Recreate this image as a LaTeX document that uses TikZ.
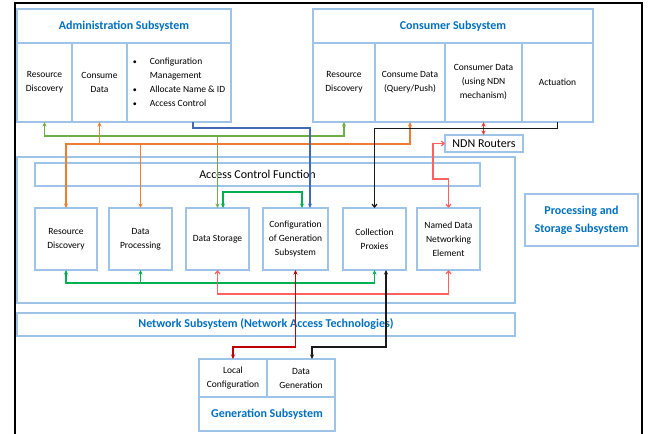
\documentclass[tikz,border=0pt]{standalone}
\usepackage{fontspec}
\setmainfont{Carlito}
\usetikzlibrary{arrows.meta}
\definecolor{boxline}{HTML}{9DC3E6}
\definecolor{titleblue}{HTML}{0070C0}
\definecolor{lgreen}{HTML}{70AD47}
\definecolor{bgreen}{HTML}{00B050}
\definecolor{orng}{HTML}{ED7D31}
\definecolor{dblue}{HTML}{4169B4}
\definecolor{lred}{HTML}{FF6161}
\definecolor{mred}{HTML}{E63B3B}
\definecolor{dred}{HTML}{C00000}
\definecolor{blk}{HTML}{1A1A1A}
\begin{document}
\begin{tikzpicture}[x=1pt,y=-1pt,
  cell/.style={draw=boxline, line width=1.3pt, inner sep=0pt, outer sep=0pt,
    align=center, font=\fontsize{9.5}{14}\selectfont},
  title/.style={cell, font=\fontsize{12}{18}\selectfont\bfseries, text=titleblue},
  plain/.style={cell, font=\fontsize{12}{14}\selectfont},
  stl/.tip={Stealth[length=4.5pt,width=4pt]},
  brb/.tip={Straight Barb[length=3pt,width=5pt]},
  conn/.style={line width=1.5pt},
]
\fill[white] (0,0) rectangle (649,434);
\useasboundingbox (0,0) rectangle (649,434);
% outer frame
\draw[line width=2.6pt, black] (15,434) -- (15,3) -- (642,3) -- (642,434);

% Administration subsystem
\node[title, minimum width=214, minimum height=34] (adTitle) at (124,26) {Administration Subsystem};
\node[cell, minimum width=55, minimum height=79] (adRD) at (44.5,82.5) {Resource\\Discovery};
\node[cell, minimum width=55, minimum height=79] (adCD) at (99.5,82.5) {Consume\\Data};
\node[cell, minimum width=104, minimum height=79] (adCfg) at (179,82.5)
  {\begin{tabular}{@{}l@{\hspace{13pt}}l@{}}
   {\footnotesize\textbullet} & Configuration\\
               & Management\\
   {\footnotesize\textbullet} & Allocate Name \& ID\\
   {\footnotesize\textbullet} & Access Control
   \end{tabular}};

% Consumer subsystem
\node[title, minimum width=280, minimum height=34] (conTitle) at (453,26) {Consumer Subsystem};
\node[cell, minimum width=62, minimum height=79] (conRD) at (344,82.5) {Resource\\Discovery};
\node[cell, minimum width=70, minimum height=79] (conCD) at (410,82.5) {Consume Data\\(Query/Push)};
\node[cell, minimum width=77, minimum height=79] (conND) at (483.5,82.5) {Consumer Data\\(using NDN\\mechanism)};
\node[cell, minimum width=71, minimum height=79] (conAct) at (557.5,82.5) {Actuation};

% NDN routers
\node[plain, minimum width=78, minimum height=17] (ndn) at (484,143.5) {NDN Routers};

% Processing and storage subsystem
\node[cell, minimum width=498, minimum height=146] (pss) at (266,230) {};
\node[plain, minimum width=445, minimum height=23] (acf) at (257.5,174.5) {Access Control Function};
\node[cell, minimum width=62, minimum height=62] (pRD) at (66,239) {Resource\\Discovery};
\node[cell, minimum width=63, minimum height=62] (pDP) at (140.5,239) {Data\\Processing};
\node[cell, minimum width=63, minimum height=62] (pDS) at (217.5,239) {Data Storage};
\node[cell, minimum width=65, minimum height=62] (pCG) at (295.5,239) {Configuration\\of Generation\\Subsystem};
\node[cell, minimum width=63, minimum height=62] (pCP) at (374.5,239) {Collection\\Proxies};
\node[cell, minimum width=63, minimum height=62] (pND) at (448.5,239) {Named Data\\Networking\\Element};
\node[title, minimum width=113, minimum height=52] (pssLabel) at (581.5,220) {Processing and\\Storage Subsystem};

% Network subsystem
\node[title, minimum width=498, minimum height=23] (net) at (266,324.5) {Network Subsystem (Network Access Technologies)};

% Generation subsystem
\node[cell, minimum width=68, minimum height=38] (gLC) at (233,378) {Local\\Configuration};
\node[cell, minimum width=68, minimum height=38] (gDG) at (301,378) {Data\\Generation};
\node[title, minimum width=136, minimum height=34] (gTitle) at (267,414) {Generation Subsystem};

% ---- connectors ----
\coordinate (gj) at (pDS.north |- 0,136);
\coordinate (oy) at (0,144);

% resource discovery links
\draw[conn, lgreen, -{stl}] (gj) -| (adRD.south);
\draw[conn, lgreen, -{stl}] (gj) -| (conRD.south);
\draw[conn, lgreen, -{stl}] (gj) -- (pDS.north);

% consume data / processing links
\draw[conn, orng, line width=1.8pt, {stl}-{stl}] (pRD.north) -- (pRD.north |- oy) -| (conCD.south);
\draw[conn, orng, line width=1.8pt, -{stl}] (pDP.north |- oy) -- (pDP.north);
\draw[conn, orng, line width=1.8pt, -{stl}] (adCD.south |- oy) -- (adCD.south);

% configuration management link
\draw[conn, dblue, -{stl}] ([xshift=14pt]adCfg.south) -- ++(0,6) -| ([xshift=14.5pt]pCG.north);

% storage <-> configuration
\draw[conn, bgreen, line width=1.8pt, {stl}-{stl}] ([xshift=5.5pt]pDS.north) -- ++(0,-16) -| ([xshift=6.5pt]pCG.north);

% discovery / processing <-> collection proxies
\draw[conn, bgreen, line width=1.8pt, {stl}-{stl}] (pRD.south) -- ++(0,13) -| (pCP.south);
\draw[conn, bgreen, line width=1.8pt, -{stl}] ([yshift=-13pt]pDP.south) -- (pDP.south);

% storage <-> named data networking element
\draw[conn, lred, line width=1.2pt, {brb}-{brb}] (pDS.south) -- ++(0,24) -| (pND.south);

% NDN routers links
\draw[conn, lred, line width=1.2pt, {brb}-{brb}] (ndn.west) -- ++(-12,0) -- ++(0,35.5) -| (pND.north);
\draw[conn, mred, line width=1.2pt, {stl}-{stl}] (conND.south) -- (conND.south |- ndn.north);

% actuation -> collection proxies
\draw[conn, blk, line width=1.2pt, -{brb}] (conAct.south) -- ++(0,6.5) -| (pCP.north);

% generation subsystem links
\draw[conn, dred, {stl}-{stl}] (pCG.south) -- ++(0,77) -| (gLC.north);
\draw[conn, blk, {stl}-{stl}] ([xshift=11.5pt]pCP.south) -- ++(0,77) -| ([xshift=11pt]gDG.north);
\end{tikzpicture}
\end{document}
